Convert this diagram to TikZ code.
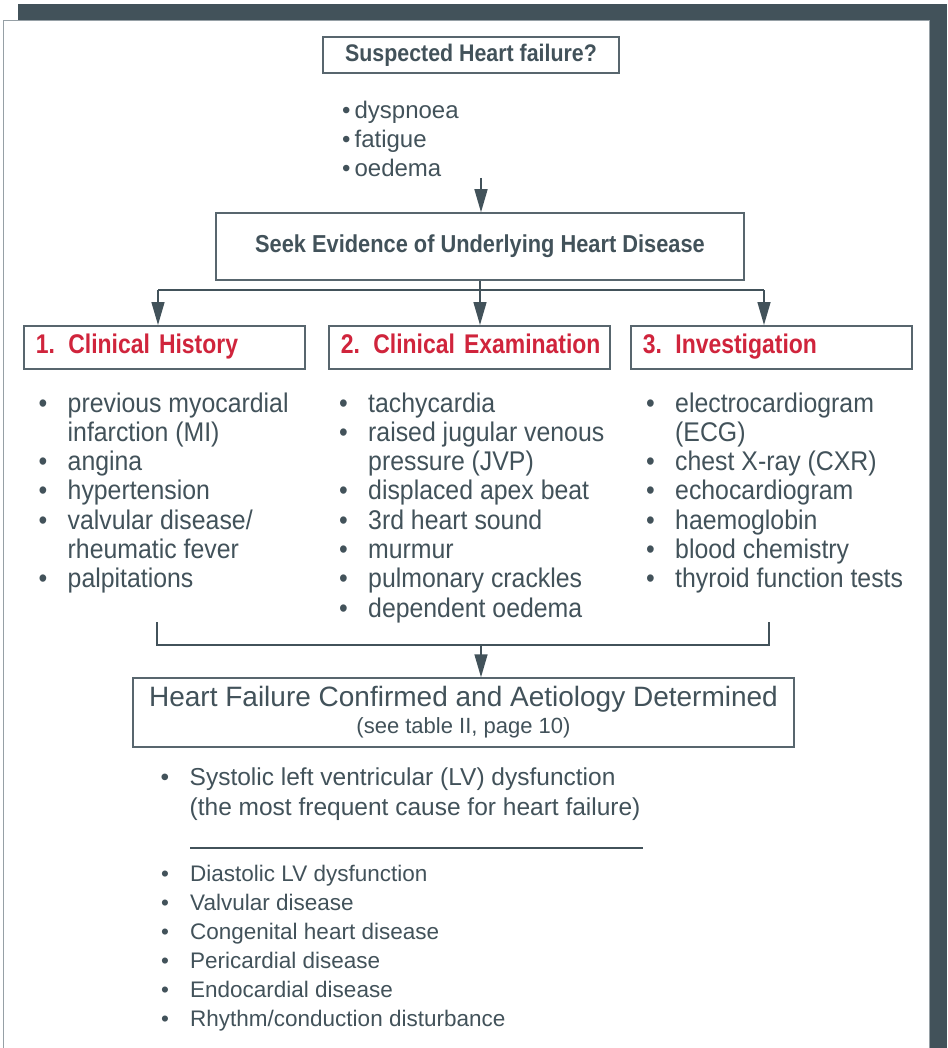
\documentclass[tikz,border=0pt]{standalone}
\usepackage{fontspec}
\setmainfont{Liberation Sans}
\newfontfamily\listfont[FakeStretch=0.92]{Liberation Sans}
\newfontfamily\boxfont[FakeStretch=0.89]{Liberation Sans}
\newfontfamily\headfont[FakeStretch=0.85]{Liberation Sans}
\usetikzlibrary{arrows.meta}

\definecolor{slate}{RGB}{66,82,90}
\definecolor{boxline}{RGB}{88,102,110}
\definecolor{headred}{RGB}{208,36,60}
\definecolor{panelline}{RGB}{150,160,166}

% bullet line and continuation line
\newcommand{\itm}[1]{\makebox[29pt][l]{\textbullet}#1}
\newcommand{\cnt}[1]{\hspace*{29pt}#1}

\tikzset{
  box/.style={draw=boxline, line width=1.5pt, text=slate, inner sep=0pt},
  headbox/.style={draw=boxline, line width=1.5pt, text=headred, anchor=north west,
    minimum height=43pt, text width=257pt, inner xsep=12pt, inner ysep=0pt, align=left,
    font=\headfont\bfseries\fontsize{27}{30}\selectfont},
  itemlist/.style={anchor=base west, inner sep=0pt, text=slate},
  conn/.style={draw=slate, line width=1.5pt},
  arr/.style={conn, -{Triangle[length=23pt,width=13pt]}},
}

\begin{document}
\begin{tikzpicture}[x=1pt, y=-1pt]
        \useasboundingbox (0,0) rectangle (947,1048);
        % frame
        \fill[slate] (18,4) rectangle (947,1048);
        \filldraw[fill=white, draw=panelline, line width=1pt] (3.5,20.5) rectangle (929,1060);

        % top
        \node[box, minimum width=296pt, minimum height=36pt, font=\boxfont\bfseries\fontsize{24}{28}\selectfont] (suspect) at (471,55) {Suspected Heart failure?};
        \node[itemlist, font=\fontsize{24}{28.7}\selectfont] (sympt) at (342,119) {\begin{tabular}[t]{@{}l@{}}
            \textbullet\,dyspnoea\\
            \textbullet\,fatigue\\
            \textbullet\,oedema
        \end{tabular}};
        \node[box, minimum width=528pt, minimum height=67pt, font=\boxfont\bfseries\fontsize{24.5}{28}\selectfont] (seek) at (480,246.5) {Seek Evidence of Underlying Heart Disease};
        \coordinate (symend) at (481,178);
        \draw[arr] (symend) -- (symend |- seek.north);

        % three branches
        \node[headbox] (hist) at (23,325) {\mbox{\strut 1.\enspace Clinical History}};
        \node[headbox] (exam) at (328,325) {\mbox{\strut 2.\enspace Clinical Examination}};
        \node[headbox] (invest) at (630,325) {\mbox{\strut 3.\enspace Investigation}};
        \coordinate (splitL) at (158,290);
        \coordinate (splitR) at (764,290);
        \draw[conn] (seek.south) -- (seek.south |- splitL);
        \draw[conn] (splitL) -- (splitR);
        \draw[arr] (splitL) -- (splitL |- hist.north);
        \draw[arr] (seek.south |- splitL) -- (seek.south |- exam.north);
        \draw[arr] (splitR) -- (splitR |- invest.north);

        \node[itemlist, font=\listfont\fontsize{27}{29.3}\selectfont] (histlist) at (38.5,412) {\begin{tabular}[t]{@{}l@{}}
            \itm{previous myocardial}\\
            \cnt{infarction (MI)}\\
            \itm{angina}\\
            \itm{hypertension}\\
            \itm{valvular disease/}\\
            \cnt{rheumatic fever}\\
            \itm{palpitations}
        \end{tabular}};
        \node[itemlist, font=\listfont\fontsize{27}{29.3}\selectfont] (examlist) at (339,412) {\begin{tabular}[t]{@{}l@{}}
            \itm{tachycardia}\\
            \itm{raised jugular venous}\\
            \cnt{pressure (JVP)}\\
            \itm{displaced apex beat}\\
            \itm{3rd heart sound}\\
            \itm{murmur}\\
            \itm{pulmonary crackles}\\
            \itm{dependent oedema}
        \end{tabular}};
        \node[itemlist, font=\listfont\fontsize{27}{29.3}\selectfont] (investlist) at (646,412) {\begin{tabular}[t]{@{}l@{}}
            \itm{electrocardiogram}\\
            \cnt{(ECG)}\\
            \itm{chest X-ray (CXR)}\\
            \itm{echocardiogram}\\
            \itm{haemoglobin}\\
            \itm{blood chemistry}\\
            \itm{thyroid function tests}
        \end{tabular}};

        % join
        \coordinate (joinL) at (157,645);
        \coordinate (joinR) at (769,645);
        \coordinate (joinM) at (481,645);
        \draw[conn] (joinL |- 0,622) -- (joinL) -- (joinR) -- (joinR |- 0,622);
        \node[box, minimum width=661pt, minimum height=69pt, align=center, font=\fontsize{28}{25}\selectfont] (confirm) at (463.5,712.5) {Heart Failure Confirmed and Aetiology Determined\\[2pt]{\fontsize{22}{25}\selectfont (see table II, page 10)}};
        \draw[arr] (joinM) -- (joinM |- confirm.north);

        % causes
        \node[itemlist, font=\fontsize{24.5}{30}\selectfont] (systolic) at (160.5,785) {\begin{tabular}[t]{@{}l@{}}
            \itm{Systolic left ventricular (LV) dysfunction}\\
            \cnt{(the most frequent cause for heart failure)}
        \end{tabular}};
        \draw[conn] (190,848) -- (643,848);
        \node[itemlist, font=\fontsize{22.5}{29}\selectfont] (causes) at (161,881.7) {\begin{tabular}[t]{@{}l@{}}
            \itm{Diastolic LV dysfunction}\\
            \itm{Valvular disease}\\
            \itm{Congenital heart disease}\\
            \itm{Pericardial disease}\\
            \itm{Endocardial disease}\\
            \itm{Rhythm/conduction disturbance}
        \end{tabular}};
    \end{tikzpicture}
\end{document}
